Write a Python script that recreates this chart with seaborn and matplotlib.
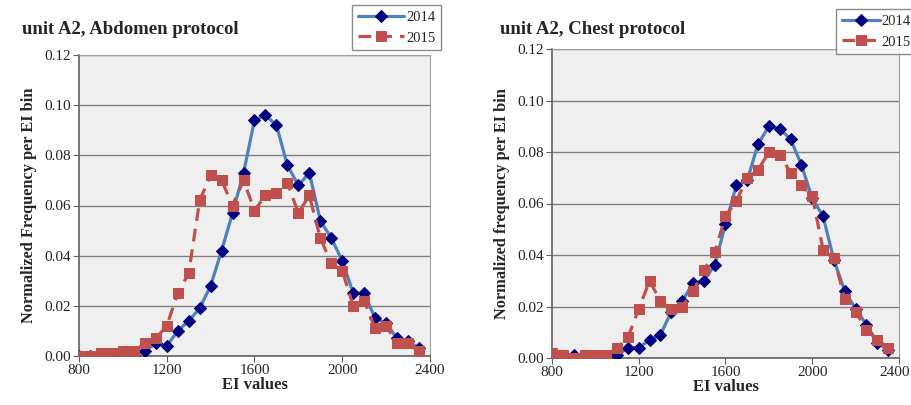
import matplotlib
matplotlib.use("Agg")
import matplotlib.pyplot as plt
import matplotlib.transforms as mtransforms
import numpy as np
import pandas as pd
import seaborn as sns

# EI bins (left edge of each 50-wide bin)
ei_bins = list(range(800, 2400, 50))

abdomen_2014 = [0.000, 0.000, 0.000, 0.000, 0.000, 0.000, 0.002, 0.005,
                0.004, 0.010, 0.014, 0.019, 0.028, 0.042, 0.057, 0.073,
                0.094, 0.096, 0.092, 0.076, 0.068, 0.073, 0.054, 0.047,
                0.038, 0.025, 0.025, 0.015, 0.013, 0.007, 0.006, 0.003]
abdomen_2015 = [0.000, 0.000, 0.001, 0.001, 0.002, 0.002, 0.005, 0.007,
                0.012, 0.025, 0.033, 0.062, 0.072, 0.070, 0.060, 0.070,
                0.058, 0.064, 0.065, 0.069, 0.057, 0.064, 0.047, 0.037,
                0.034, 0.020, 0.022, 0.011, 0.012, 0.005, 0.005, 0.002]

chest_2014 = [0.001, 0.000, 0.001, 0.000, 0.000, 0.000, 0.001, 0.004,
              0.004, 0.007, 0.009, 0.018, 0.022, 0.029, 0.030, 0.036,
              0.052, 0.067, 0.069, 0.083, 0.090, 0.089, 0.085, 0.075,
              0.062, 0.055, 0.038, 0.026, 0.019, 0.013, 0.006, 0.003]
chest_2015 = [0.002, 0.001, 0.000, 0.001, 0.001, 0.001, 0.004, 0.008,
              0.019, 0.030, 0.022, 0.019, 0.020, 0.026, 0.034, 0.041,
              0.055, 0.061, 0.070, 0.073, 0.080, 0.079, 0.072, 0.067,
              0.063, 0.042, 0.039, 0.023, 0.018, 0.011, 0.007, 0.004]

years = ["2014", "2015"]
x_ticks = [800, 1200, 1600, 2000, 2400]
y_ticks = [0.00, 0.02, 0.04, 0.06, 0.08, 0.10, 0.12]

sns.set_style("white")
plt.rcParams["font.family"] = ["Liberation Serif", "DejaVu Serif"]

BLUE_LINE = "#4f81bd"
BLUE_MARK = "#000080"
RED = "#c0504d"


def make_df(v2014, v2015):
    return pd.DataFrame({
        "EI": ei_bins * 2,
        "freq": v2014 + v2015,
        "year": ["2014"] * len(ei_bins) + ["2015"] * len(ei_bins),
    })


def draw_panel(ax, df, title, title_x, ylabel, legend_anchor, handlelength):
    fig = ax.figure
    ax.set_facecolor("#efefef")
    sub14 = df[df["year"] == years[0]]
    sub15 = df[df["year"] == years[1]]
    sns.lineplot(data=sub14, x="EI", y="freq", ax=ax, color=BLUE_LINE, lw=2.3,
                 marker="D", markersize=6.5, markerfacecolor=BLUE_MARK,
                 markeredgecolor=BLUE_MARK, label=years[0], zorder=3)
    sns.lineplot(data=sub15, x="EI", y="freq", ax=ax, color=RED, lw=2.3,
                 linestyle=(0, (4, 2.5)), marker="s", markersize=7,
                 markerfacecolor=RED, markeredgecolor=RED, label=years[1], zorder=4)

    ax.set_xlim(800, 2400)
    ax.set_ylim(0, 0.12)
    ax.set_xticks(x_ticks)
    ax.set_yticks(y_ticks)
    ax.set_yticklabels([f"{v:.2f}" for v in y_ticks])
    ax.yaxis.grid(True, color="#808080", lw=1)
    ax.set_axisbelow(True)
    ax.tick_params(axis="both", labelsize=11, length=4, direction="out",
                   left=True, bottom=True, color="#606060", pad=2)
    for s in ["left", "bottom"]:
        ax.spines[s].set_color("#606060")
        ax.spines[s].set_linewidth(1.2)
    for s in ["top", "right"]:
        ax.spines[s].set_color("#a0a0a0")
        ax.spines[s].set_linewidth(0.8)

    ax.set_xlabel("EI values", fontsize=12, fontweight="bold", labelpad=0)
    ax.set_ylabel(ylabel, fontsize=11.8, fontweight="bold", labelpad=5)
    fig.text(title_x, 1 - 30 / 405, title, fontsize=13.5, fontweight="bold",
             ha="left", va="center")

    leg = ax.legend(loc="upper left", bbox_to_anchor=legend_anchor,
                    bbox_transform=fig.transFigure, frameon=True,
                    fancybox=False, fontsize=10.5, handlelength=handlelength,
                    handletextpad=0.1, borderpad=0.4, labelspacing=0.5,
                    borderaxespad=0)
    leg.get_frame().set_edgecolor("#707070")
    leg.get_frame().set_linewidth(1.0)


fig = plt.figure(figsize=(9.12, 4.05), dpi=100)
ax1 = fig.add_axes([79 / 912, 1 - 356 / 405, 351 / 912, 301 / 405])
ax2 = fig.add_axes([552 / 912, 1 - 358 / 405, 347 / 912, 309 / 405])

draw_panel(ax1, make_df(abdomen_2014, abdomen_2015),
           "unit A2, Abdomen protocol", 22 / 912,
           "Normalized Frequency per EI bin",
           (352 / 912, 1 - 5 / 405), 3.2)
draw_panel(ax2, make_df(chest_2014, chest_2015),
           "unit A2, Chest protocol", 500 / 912,
           "Normalized frequency per EI bin",
           (836 / 912, 1 - 9 / 405), 2.6)

# the right panel's last tick label sits at the figure edge; nudge it inside
last = ax2.get_xticklabels()[-1]
last.set_transform(last.get_transform() +
                   mtransforms.ScaledTranslation(-4 / 100, 0, fig.dpi_scale_trans))

fig.savefig("out.png", dpi=100)
